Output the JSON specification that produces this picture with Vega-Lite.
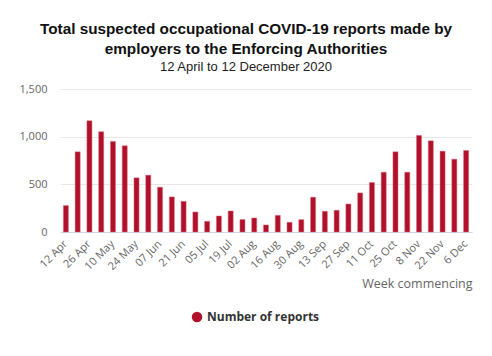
{
  "$schema": "https://vega.github.io/schema/vega-lite/v6.json",
  "autosize": {"type": "none"},
  "width": 412,
  "height": 143,
  "padding": {"left": 60, "top": 89, "right": 20, "bottom": 124},
  "background": "#ffffff",
  "title": {
    "text": ["Total suspected occupational COVID-19 reports made by", "employers to the Enforcing Authorities"],
    "subtitle": "12 April to 12 December 2020",
    "font": "Liberation Sans",
    "fontSize": 15.3,
    "fontWeight": "bold",
    "color": "#111111",
    "lineHeight": 20,
    "subtitleFont": "Liberation Sans",
    "subtitleFontSize": 13,
    "subtitleColor": "#222222",
    "subtitlePadding": 4,
    "anchor": "middle",
    "frame": "group",
    "dx": -20,
    "offset": 9
  },
  "data": {
    "values": [
      {"week": "12 Apr", "reports": 277},
      {"week": "19 Apr", "reports": 841},
      {"week": "26 Apr", "reports": 1167},
      {"week": "03 May", "reports": 1052},
      {"week": "10 May", "reports": 950},
      {"week": "17 May", "reports": 904},
      {"week": "24 May", "reports": 568},
      {"week": "31 May", "reports": 596},
      {"week": "07 Jun", "reports": 470},
      {"week": "14 Jun", "reports": 368},
      {"week": "21 Jun", "reports": 322},
      {"week": "28 Jun", "reports": 210},
      {"week": "05 Jul", "reports": 112},
      {"week": "12 Jul", "reports": 168},
      {"week": "19 Jul", "reports": 221},
      {"week": "26 Jul", "reports": 130},
      {"week": "02 Aug", "reports": 147},
      {"week": "09 Aug", "reports": 74},
      {"week": "16 Aug", "reports": 175},
      {"week": "23 Aug", "reports": 102},
      {"week": "30 Aug", "reports": 130},
      {"week": "06 Sep", "reports": 365},
      {"week": "13 Sep", "reports": 217},
      {"week": "20 Sep", "reports": 228},
      {"week": "27 Sep", "reports": 294},
      {"week": "04 Oct", "reports": 410},
      {"week": "11 Oct", "reports": 519},
      {"week": "18 Oct", "reports": 627},
      {"week": "25 Oct", "reports": 841},
      {"week": "1 Nov", "reports": 627},
      {"week": "8 Nov", "reports": 1013},
      {"week": "15 Nov", "reports": 957},
      {"week": "22 Nov", "reports": 848},
      {"week": "29 Nov", "reports": 764},
      {"week": "6 Dec", "reports": 855}
    ]
  },
  "mark": {"type": "bar", "stroke": "#d9707f", "strokeWidth": 0.5},
  "encoding": {
    "x": {
      "field": "week",
      "type": "ordinal",
      "sort": null,
      "scale": {"paddingInner": 0.57, "paddingOuter": 0.285},
      "axis": {
        "values": ["12 Apr", "26 Apr", "10 May", "24 May", "07 Jun", "21 Jun", "05 Jul", "19 Jul", "02 Aug", "16 Aug", "30 Aug", "13 Sep", "27 Sep", "11 Oct", "25 Oct", "8 Nov", "22 Nov", "6 Dec"],
        "title": "Week commencing",
        "titleAnchor": "end",
        "titleFont": "Open Sans",
        "titleFontSize": 12.5,
        "titleFontWeight": "normal",
        "titleColor": "#666666",
        "titlePadding": 6,
        "labelAngle": -45,
        "labelAlign": "right",
        "labelBaseline": "middle",
        "labelFont": "Open Sans",
        "labelFontSize": 11,
        "labelColor": "#666666",
        "labelPadding": 10,
        "ticks": false,
        "domainColor": "#ccd6eb",
        "grid": false
      }
    },
    "y": {
      "field": "reports",
      "type": "quantitative",
      "scale": {"domain": [0, 1500]},
      "axis": {
        "title": null,
        "values": [0, 500, 1000, 1500],
        "format": ",.0f",
        "labelFont": "Open Sans",
        "labelFontSize": 11,
        "labelColor": "#666666",
        "labelPadding": 13,
        "ticks": false,
        "domain": false,
        "gridColor": "#e6e6e6"
      }
    },
    "color": {
      "datum": "Number of reports",
      "type": "nominal",
      "scale": {"range": ["#b0102a"]},
      "legend": {
        "title": null,
        "orient": "none",
        "legendX": 131,
        "legendY": 222,
        "symbolType": "circle",
        "symbolSize": 110,
        "symbolStrokeWidth": 0,
        "labelFont": "Open Sans",
        "labelFontSize": 12,
        "labelFontWeight": "bold",
        "labelColor": "#333333"
      }
    }
  },
  "config": {
    "view": {"stroke": null}
  }
}
